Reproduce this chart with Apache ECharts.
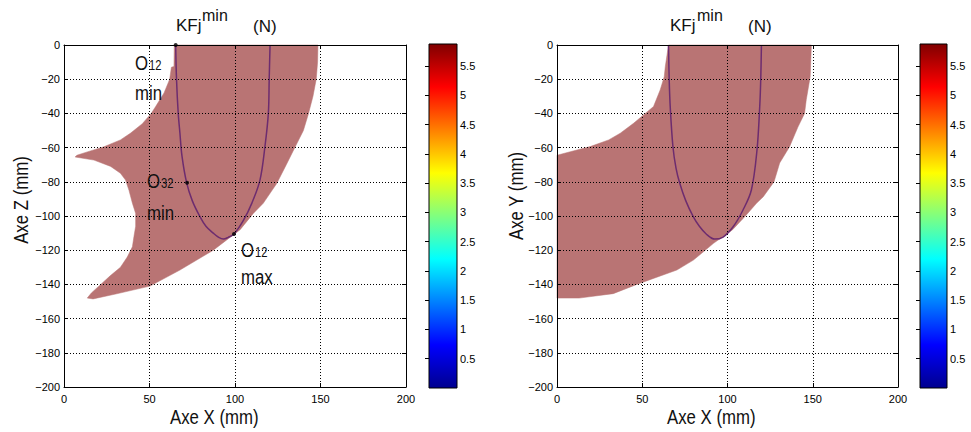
<!DOCTYPE html>
<html><head><meta charset="utf-8">
<script src="https://cdn.jsdelivr.net/npm/echarts@6/dist/echarts.min.js"></script>
<style>html,body{margin:0;padding:0;background:#fff}#c{width:971px;height:432px}</style>
</head><body><div id="c"></div>
<script>
// ---- data ----
const xTicks = [0, 50, 100, 150, 200];
const yTicks = [0, -20, -40, -60, -80, -100, -120, -140, -160, -180, -200];
const colorTicks = [0.5, 1, 1.5, 2, 2.5, 3, 3.5, 4, 4.5, 5, 5.5];
const colorbarRange = [0, 5.875];

// left plot (X-Z plane): reachable region boundary
const regionXZ_x = [64.5, 64.3, 62.8, 61.8, 58.5, 53.6, 51, 45.8, 39, 33, 23.4, 13.6, 7.5, 6.5, 17.5, 27.3, 33, 36, 38, 40, 41.9, 41.9, 40.9, 40, 37, 33, 27, 21.5, 16, 13.6,
  17, 30.8, 50.3, 67.8, 87.3, 103, 110.7, 116.5, 124.4, 130, 135, 140, 143, 145.6, 147.5, 148.3, 148.5];
const regionXZ_z = [0, -12.5, -13, -20, -28, -36, -40, -46, -51.5, -55.5, -59.5, -62.5, -64.5, -65.5, -67.3, -71, -75, -79, -85, -92.5, -98.5, -106, -112, -118, -124, -130, -135, -140, -145, -148,
  -148.5, -145.5, -141, -131.6, -120, -108, -98.5, -92.6, -81, -70, -60, -50, -40, -30, -20, -10, 0];
// left plot curve
const curveXZ_x = [65.3, 65.8, 66.8, 67.8, 69, 71.7, 75, 79.5, 83, 87.3, 90.5, 93.2, 96, 99.4, 105, 109.8, 114.6, 117.5, 119.5, 120, 120.5];
const curveXZ_z = [0, -20, -40, -51.6, -65, -80.5, -91, -100.4, -106, -110, -112.5, -113.5, -112.5, -110.5, -102.4, -92.6, -79, -59.5, -40, -20, 0];
// marked points (O12 min, O32 min, O12 max)
const markX = [65.3, 72, 99.4];
const markZ = [0, -80.5, -110.5];

// right plot (X-Y plane)
const regionXY_x = [65.4, 63.5, 62.9, 60.5, 56.6, 51.8, 44.9, 37.1, 30.3, 19.5, 7.8, 0, 0, 13, 33, 46.8, 70.3, 80, 91.8, 103, 110.5, 117, 121, 127.3, 130.6, 136.4, 141.3, 145.2, 146.2, 148.5, 149.2];
const regionXY_y = [0, -12.7, -18.5, -26.3, -36, -40, -45.8, -51.6, -55.5, -59.4, -62.4, -64.5, -148, -148, -145.4, -140, -131.6, -125.8, -116, -108, -100, -92.6, -88.7, -80, -69, -59.5, -48, -40, -32, -18.5, 0];
const curveXY_x = [65.4, 65.8, 66.4, 68, 69.8, 72, 75.5, 79.9, 83.5, 87.5, 92.5, 97.4, 103.3, 109.1, 114, 117.3, 118.9, 119.5, 119.9];
const curveXY_y = [0, -20, -36, -59.5, -72, -80.9, -91, -100.4, -106, -110.5, -113.5, -112.3, -106.3, -96.5, -84.8, -61.4, -36, -20, 0];

// ---- styling ----
const FILL = '#b97474';
const CURVE = '#6d2c6f';
const SANS = '"Liberation Sans", Arial, sans-serif';
const jet = [
  {offset: 0, color: '#00008f'}, {offset: 0.125, color: '#0000ff'}, {offset: 0.375, color: '#00ffff'},
  {offset: 0.625, color: '#ffff00'}, {offset: 0.875, color: '#ff0000'}, {offset: 1, color: '#800000'}];

const minus = v => String(v).replace('-', '\u2212');
const lbl = {color: '#000', fontSize: 11, fontFamily: SANS};
const dotted = {show: true, lineStyle: {color: '#000', width: 1, type: [1, 2]}};

function plotAxes(grid, pos, isX) {
  const common = {
    type: 'value', gridIndex: grid, z: 10,
    axisLine: {show: true, onZero: false, lineStyle: {color: '#000', width: 1}},
    axisTick: {show: true, inside: true, length: 4, lineStyle: {color: '#000'}},
  };
  if (isX) Object.assign(common, {min: 0, max: 200, interval: 50});
  else Object.assign(common, {min: -200, max: 0, interval: 20});
  const main = Object.assign({}, common, {
    position: pos[0],
    axisLabel: Object.assign({margin: isX ? 6 : 4, formatter: minus}, lbl),
    splitLine: dotted
  });
  const opp = Object.assign({}, common, {
    position: pos[1], axisLabel: {show: false}, splitLine: {show: false}
  });
  return [main, opp];
}

function regionRenderer(xs, ys) {
  return function (params, api) {
    if (params.dataIndex !== 0) return null;
    const pts = xs.map((x, i) => api.coord([x, ys[i]]));
    return {type: 'polygon', shape: {points: pts}, style: {fill: FILL, stroke: FILL, lineWidth: 0.5}};
  };
}
function colorbarRenderer(params, api) {
  if (params.dataIndex !== 0) return null;
  const p0 = api.coord([0, colorbarRange[1]]);
  const p1 = api.coord([1, colorbarRange[0]]);
  return {type: 'rect', shape: {x: p0[0], y: p0[1], width: p1[0] - p0[0], height: p1[1] - p0[1]},
    style: {fill: new echarts.graphic.LinearGradient(0, 1, 0, 0, jet), stroke: '#000', lineWidth: 1}};
}

const grids = [
  {left: 64, top: 45, width: 342, height: 342},
  {left: 429, top: 44, width: 28, height: 344},
  {left: 557, top: 45, width: 341, height: 342},
  {left: 920, top: 44, width: 27, height: 344}
];

const cbX = g => ({type: 'value', gridIndex: g, min: 0, max: 1, show: false});
const cbY = g => ({type: 'value', gridIndex: g, min: colorbarRange[0], max: colorbarRange[1], position: 'right', z: 10,
  axisLine: {show: false},
  axisTick: {show: true, inside: true, length: 4, customValues: colorTicks, lineStyle: {color: '#000'}},
  axisLabel: Object.assign({margin: 3, customValues: colorTicks, formatter: v => String(v)}, lbl),
  splitLine: {show: false}});

const xAxes = [...plotAxes(0, ['bottom', 'top'], true), cbX(1), ...plotAxes(2, ['bottom', 'top'], true), cbX(3)];
const yAxes = [...plotAxes(0, ['left', 'right'], false), cbY(1), ...plotAxes(2, ['left', 'right'], false), cbY(3)];

const series = [
  {type: 'custom', xAxisIndex: 0, yAxisIndex: 0, renderItem: regionRenderer(regionXZ_x, regionXZ_z),
    data: regionXZ_x.map((x, i) => [x, regionXZ_z[i]]), silent: true, z: 2},
  {type: 'line', xAxisIndex: 0, yAxisIndex: 0, data: curveXZ_x.map((x, i) => [x, curveXZ_z[i]]),
    smooth: 0.35, showSymbol: false, lineStyle: {color: CURVE, width: 1.5}, z: 3},
  {type: 'scatter', xAxisIndex: 0, yAxisIndex: 0, data: markX.map((x, i) => [x, markZ[i]]),
    symbolSize: 4, itemStyle: {color: '#000'}, z: 12},
  {type: 'custom', xAxisIndex: 2, yAxisIndex: 2, renderItem: colorbarRenderer, data: [[0, colorbarRange[0]], [1, colorbarRange[1]]]},
  {type: 'custom', xAxisIndex: 3, yAxisIndex: 3, renderItem: regionRenderer(regionXY_x, regionXY_y),
    data: regionXY_x.map((x, i) => [x, regionXY_y[i]]), silent: true, z: 2},
  {type: 'line', xAxisIndex: 3, yAxisIndex: 3, data: curveXY_x.map((x, i) => [x, curveXY_y[i]]),
    smooth: 0.35, showSymbol: false, lineStyle: {color: CURVE, width: 1.5}, z: 3},
  {type: 'custom', xAxisIndex: 5, yAxisIndex: 5, renderItem: colorbarRenderer, data: [[0, colorbarRange[0]], [1, colorbarRange[1]]]}
];

// text helper; 'narrow' text is compressed horizontally like the reference's tall glyphs
function txt(text, x, y, size, narrow, rot, align) {
  const el = {type: 'text', x: x, y: y, z: 100,
    style: {text: text, font: size + 'px ' + SANS, fill: '#111', align: align || 'left', verticalAlign: 'middle'}};
  if (narrow) el.scaleX = 0.8;
  if (rot) el.rotation = Math.PI / 2;
  return el;
}
const graphic = [
  // titles
  txt('KFj', 176, 25, 17, false), txt('min', 202, 15, 16, false), txt('(N)', 253, 26, 17, false),
  txt('KFj', 670, 25, 17, false), txt('min', 697, 15, 16, false), txt('(N)', 748, 26, 17, false),
  // axis names
  txt('Axe X (mm)', 170, 417, 21, true), txt('Axe Z (mm)', 21, 200, 21, true, true, 'center'),
  txt('Axe X (mm)', 667, 417, 21, true), txt('Axe Y (mm)', 516, 196, 21, true, true, 'center'),
  // annotations
  txt('O', 135, 63, 21, true), txt('12', 149, 66, 14, true), txt('min', 135, 93, 21, true),
  txt('O', 147, 181, 21, true), txt('32', 161, 184, 14, true), txt('min', 147, 213, 21, true),
  txt('O', 241, 250, 21, true), txt('12', 255, 253, 14, true), txt('max', 241, 277, 21, true)
];

const chart = echarts.init(document.getElementById('c'), null, {renderer: 'svg'});
chart.setOption({animation: false, backgroundColor: '#fff', grid: grids, xAxis: xAxes, yAxis: yAxes, series: series, graphic: graphic});
</script></body></html>
